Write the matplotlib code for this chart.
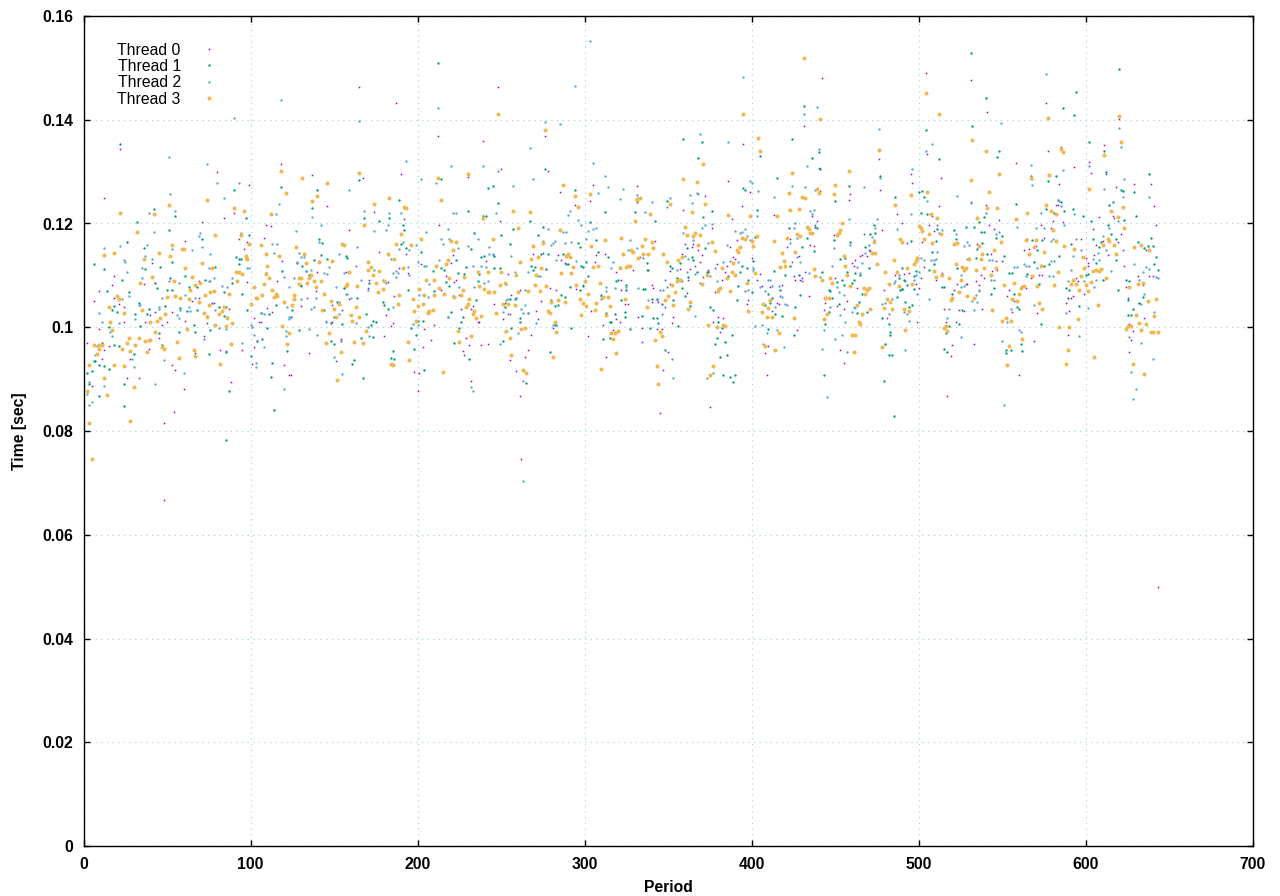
import numpy as np
import matplotlib
matplotlib.use('Agg')
import matplotlib.pyplot as plt

plt.rcParams['font.family'] = ['Liberation Sans', 'DejaVu Sans']

# (period, time in sec)
thread0 = [
(84,.1210),(90,.1220),(71,.1202),(109,.1198),(112,.1195),(146,.1233),(159,.1187),(174,.1222),(93,.1171),(98,.1164),(61,.1166),(108,.1173),(96,.1150),(41,.1123),(119,.1127),(18,.1098),(17,.1081),(9,.1069),(6,.1050),(36,.1083),(51,.1089),(69,.1090),(76,.1089),(98,.1087),(116,.1090),(130,.1081),(140,.1106),(139,.1069),(157,.1106),(156,.1075),(163,.1119),(171,.1092),(170,.1075),(18,.1056),(21,.1044),(24,.1039),(43,.1029),(40,.1023),(53,.1029),(65,.1050),(69,.1056),(77,.1046),(78,.1046),(87,.1035),(134,.1056),(130,.1040),(110,.1037),(113,.1029),(149,.1042),(155,.1033),(159,.1054),(102,.1017),(105,.1010),(106,.1010),(24,.1011),(37,.1011),(50,.1010),(47,.1004),(61,.1013),(74,.1008),(78,.1005),(145,.1013),(149,.1011),(9,.0996),(2,.0969),(15,.0963),(12,.0957),(39,.0959),(45,.0979),(72,.0983),(154,.0977),(154,.0973),(82,.0957),(85,.0954),(95,.0957),(102,.0961),(11,.0938),(28,.0938),(67,.0950),(53,.0928),(55,.0917),(101,.0930),(135,.0950),(151,.0934),(120,.0928),(123,.0907),(124,.0907),(26,.0903),(33,.0903),(5,.0886),(88,.0894),(60,.0880),(54,.0836),
(303,.1243),(294,.1235),(192,.1208),(213,.1198),(249,.1204),(177,.1145),(193,.1141),(221,.1139),(220,.1123),(202,.1121),(245,.1139),(241,.1127),(269,.1141),(275,.1144),(284,.1139),(286,.1129),(288,.1123),(312,.1141),(306,.1125),(307,.1139),(335,.1133),(342,.1166),(329,.1110),(337,.1110),(319,.1106),(351,.1108),(217,.1098),(214,.1071),(223,.1092),(222,.1087),(254,.1102),(182,.1087),(189,.1115),(194,.1104),(279,.1075),(283,.1071),(299,.1081),(295,.1073),(322,.1092),(322,.1071),(340,.1081),(341,.1075),(345,.1071),(351,.1083),(186,.1060),(225,.1062),(256,.1063),(261,.1071),(274,.1050),(271,.1032),(326,.1044),(324,.1044),(343,.1052),(348,.1039),(340,.1048),(344,.1048),(246,.1044),(226,.1035),(233,.1040),(232,.1035),(304,.1031),(181,.1023),(185,.1008),(251,.1015),(272,.1015),(255,.1025),(332,.1019),(319,.1015),(321,.1011),(353,.1019),(352,.1008),(236,.1011),(237,.1010),(184,.1002),(210,.1004),(204,.0996),(281,.0998),(311,.1004),(317,.0994),(334,.0998),(343,.0996),(346,.0996),(252,.0990),(229,.0979),(180,.0983),(268,.0986),(302,.0984),(208,.0975),(238,.0965),(242,.0967),(231,.0965),(203,.0962),(227,.0954),(228,.0946),(266,.0957),(264,.0942),(255,.0936),(313,.0942),(350,.0952),(198,.0913),(201,.0911),(259,.0915),(263,.0896),(347,.0917),(232,.0896),(200,.0877),(261,.0867),(345,.0834),
(540,.1235),(512,.1233),(582,.1235),(583,.1235),(641,.1233),(508,.1214),(580,.1204),(586,.1202),(548,.1206),(608,.1212),(616,.1214),(617,.1210),(490,.1200),(506,.1198),(511,.1198),(542,.1198),(573,.1198),(642,.1197),(509,.1185),(545,.1189),(579,.1191),(604,.1189),(621,.1179),(575,.1173),(597,.1170),(619,.1164),(610,.1166),(493,.1162),(502,.1164),(535,.1160),(606,.1158),(563,.1148),(566,.1150),(570,.1156),(622,.1148),(636,.1148),(543,.1141),(613,.1139),(605,.1139),(600,.1133),(601,.1123),(503,.1117),(547,.1111),(546,.1127),(550,.1127),(623,.1119),(494,.1104),(491,.1102),(514,.1104),(544,.1108),(537,.1100),(539,.1094),(572,.1100),(574,.1100),(492,.1089),(498,.1083),(501,.1094),(510,.1092),(534,.1090),(567,.1094),(594,.1094),(595,.1090),(523,.1083),(528,.1083),(529,.1083),(536,.1081),(601,.1119),(631,.1098),(638,.1098),(640,.1098),(624,.1077),(634,.1081),(500,.1075),(521,.1071),(536,.1069),(554,.1071),(562,.1079),(564,.1075),(599,.1064),(553,.1060),(557,.1050),(591,.1056),(592,.1060),(625,.1056),(588,.1046),(632,.1046),(515,.1036),(524,.1034),(527,.1031),(538,.1036),(556,.1029),(571,.1027),(590,.1031),(635,.1017),(522,.1011),(516,.1011),(499,.1010),(626,.1006),(628,.0992),(589,.0986),(569,.0973),(520,.0965),(533,.0967),(627,.0975),(519,.0945),(626,.0952),(560,.0907),(517,.0867),
(442,.1480),(504,.1490),(531,.1476),(431,.1388),(395,.1353),(505,.1334),(476,.1324),(440,.1307),(495,.1295),(496,.1278),(513,.1287),(386,.1282),(477,.1264),(399,.1260),(441,.1262),(372,.1253),(459,.1256),(394,.1233),(359,.1226),(458,.1245),(413,.1216),(436,.1214),(487,.1218),(388,.1208),(439,.1204),(438,.1197),(376,.1191),(478,.1187),(467,.1179),(449,.1177),(423,.1170),(360,.1160),(365,.1160),(391,.1168),(364,.1154),(435,.1158),(437,.1156),(421,.1154),(368,.1149),(387,.1154),(470,.1149),(471,.1147),(466,.1139),(465,.1137),(469,.1137),(428,.1137),(358,.1141),(370,.1139),(389,.1135),(390,.1131),(400,.1133),(530,.1133),
(369,.1125),(379,.1121),(385,.1119),(357,.1112),(363,.1112),(366,.1119),(374,.1110),(371,.1096),(384,.1106),(362,.1091),(382,.1091),(396,.1069),(378,.1067),(361,.1066),(405,.1102),(403,.1092),(406,.1079),(411,.1077),(418,.1081),(424,.1125),(425,.1098),(426,.1092),(430,.1095),(429,.1091),(432,.1106),(434,.1060),(398,.1052),(397,.1044),(415,.1046),(416,.1044),(412,.1031),(380,.1019),(383,.1017),(377,.1010),(381,.0990),(450,.1094),(462,.1129),(460,.1123),(461,.1118),(463,.1075),(455,.1036),(457,.1050),(443,.1033),(444,.1046),(451,.1040),(479,.1071),(481,.1017),(486,.1100),(410,.0963),(427,.0994),(408,.0950),(409,.0907),(453,.0957),(455,.0932),(375,.0847),
(165,.1463),(187,.1432),(248,.1463),(212,.1368),(239,.1359),(276,.1368),(137,.1293),(167,.1287),(190,.1295),(230,.1289),(250,.1305),(278,.1301),(305,.1274),(331,.1272),(285,.1260),
(22,.1343),(118,.1314),(80,.1299),(99,.1274),(12,.1249),
(576,.1432),(541,.1414),(620,.1401),(611,.1351),(585,.1347),(577,.1339),(558,.1316),(593,.1309),(602,.1318),(603,.1297),(612,.1295),(629,.1276),(639,.1276),(618,.1270),(584,.1277),(568,.1285),
(48,.0667),(643,.0499),(262,.0746),(48,.0815),
]

thread1 = [
(42,.1227),(55,.1214),(97,.1210),(32,.1202),(137,.1229),(168,.1210),(177,.1204),(51,.1187),(99,.1177),(71,.1171),(26,.1164),(36,.1152),(141,.1171),(143,.1162),(91,.1136),(93,.1131),(94,.1131),(142,.1139),(128,.1123),(131,.1119),(138,.1129),(146,.1131),(157,.1137),(158,.1133),(53,.1125),(6,.1121),(37,.1112),(46,.1117),(12,.1112),(79,.1117),(93,.1121),(97,.1131),(109,.1104),(119,.1108),(135,.1100),(133,.1109),(23,.1092),(52,.1094),(61,.1098),(73,.1092),(43,.1085),(89,.1085),(130,.1079),(27,.1067),(14,.1069),(44,.1075),(50,.1071),(53,.1071),(63,.1077),(68,.1077),(84,.1067),(95,.1065),(156,.1075),(164,.1056),(171,.1085),(33,.1046),(18,.1040),(17,.1033),(20,.1029),(39,.1035),(49,.1040),(58,.1037),(68,.1033),(62,.1031),(81,.1039),(85,.1039),(74,.1021),(84,.1021),(86,.1019),(106,.1027),(98,.1033),(125,.1033),(124,.1019),(111,.1025),(115,.1042),(144,.1033),(152,.1048),(150,.1019),(169,.1025),(173,.1013),(175,.1011),(31,.1025),(38,.1025),(34,.1002),(66,.1004),(15,.1000),(110,.0998),(57,.0990),(67,.0990),(76,.0994),(148,.1008),(155,.1007),(172,.1004),(129,.0994),(107,.0977),(104,.0973),(45,.0988),(40,.0975),(11,.0969),(18,.0965),(21,.0963),(166,.0979),(173,.0981),(148,.0973),(150,.0967),(47,.0965),(30,.0948),(75,.0948),(85,.0952),(100,.0944),(122,.0955),(6,.0934),(7,.0934),(9,.0928),(12,.0926),(113,.0932),(162,.0936),(161,.0930),(15,.0919),(2,.0911),(5,.0915),(24,.0890),(3,.0890),(112,.0904),(167,.0902),(87,.0877),(9,.0867),(24,.0849),(114,.0840),
(189,.1245),(183,.1210),(230,.1225),(248,.1239),(239,.1214),(241,.1214),(312,.1222),(330,.1222),(349,.1243),(342,.1204),(303,.1202),(267,.1204),(191,.1197),(192,.1187),(257,.1189),(275,.1193),(190,.1160),(193,.1152),(202,.1146),(232,.1150),(272,.1177),(250,.1177),(234,.1181),(255,.1160),(278,.1141),(274,.1141),(287,.1141),(296,.1162),(297,.1154),(307,.1168),(308,.1145),(238,.1135),(240,.1137),(246,.1137),(223,.1129),(289,.1121),(290,.1121),(270,.1117),(268,.1119),(269,.1110),(214,.1115),(216,.1110),(229,.1117),(246,.1114),(249,.1114),(209,.1108),(224,.1104),(237,.1102),(277,.1112),(298,.1119),(299,.1117),(301,.1125),(302,.1098),(314,.1135),(321,.1117),(337,.1123),(338,.1110),(351,.1119),(352,.1114),(355,.1094),(228,.1102),(236,.1089),(217,.1087),(219,.1079),(253,.1083),(291,.1077),(297,.1071),(299,.1079),(320,.1091),(319,.1089),(325,.1081),(325,.1071),(335,.1073),(336,.1073),(235,.1052),(221,.1060),(194,.1071),(210,.1069),(179,.1048),(180,.1042),(182,.1035),(255,.1054),(252,.1046),(258,.1054),(259,.1056),(252,.1039),(280,.1052),(284,.1042),(282,.1040),(286,.1062),(288,.1058),(310,.1062),(322,.1052),(340,.1054),(343,.1054),(346,.1044),(353,.1052),(220,.1029),(218,.1019),(227,.1019),(226,.1010),(200,.1013),(203,.1013),(196,.0998),(266,.1027),(261,.1017),(261,.1010),(256,.0998),(282,.1004),(283,.1004),(313,.1027),(318,.1025),(324,.1029),(324,.1019),(316,.1010),(315,.1010),(334,.1021),(341,.1017),(343,.1017),(344,.1008),(356,.1002),(292,.0998),(225,.0998),(199,.0986),(327,.0996),(339,.0998),(311,.0977),(315,.0979),(251,.0973),(222,.0969),(198,.0959),(185,.0954),(348,.0956),(279,.0952),(184,.0940),(186,.0938),(231,.0938),(204,.0917),(265,.0892),
(558,.1237),(585,.1241),(614,.1235),(501,.1221),(505,.1218),(539,.1212),(576,.1227),(581,.1220),(587,.1224),(592,.1227),(598,.1214),(630,.1214),(603,.1204),(623,.1206),(613,.1198),(528,.1193),(533,.1193),(536,.1202),(511,.1189),(521,.1187),(522,.1171),(537,.1183),(539,.1183),(550,.1175),(546,.1173),(615,.1179),(639,.1173),(510,.1166),(495,.1166),(538,.1162),(568,.1168),(574,.1168),(591,.1160),(604,.1171),(618,.1170),(631,.1164),(637,.1156),(640,.1156),(635,.1152),(609,.1164),(608,.1154),(508,.1145),(535,.1150),(541,.1141),(571,.1148),(551,.1137),(584,.1137),(534,.1133),(530,.1131),(642,.1135),(618,.1129),(509,.1121),(498,.1108),(506,.1110),(523,.1115),(569,.1125),(575,.1119),(578,.1121),(606,.1123),(641,.1121),(643,.1110),(554,.1104),(556,.1104),(565,.1102),(601,.1102),(600,.1100),(497,.1098),(491,.1092),(493,.1081),(490,.1073),(489,.1071),(610,.1091),(624,.1092),(626,.1089),(514,.1077),(515,.1077),(497,.1073),(545,.1075),(572,.1083),(588,.1075),(590,.1071),(619,.1071),(520,.1064),(543,.1065),(557,.1064),(589,.1056),(492,.1048),(496,.1042),(494,.1039),(559,.1039),(560,.1035),(596,.1040),(625,.1052),(632,.1046),(634,.1058),(628,.1035),(526,.1033),(625,.1023),(627,.1023),(518,.1002),(524,.1006),(573,.1006),(516,.0988),(515,.0959),(517,.0952),(552,.0957),(555,.0957),(552,.0950),(561,.0967),(562,.0954),
(531,.1528),(431,.1426),(504,.1380),(532,.1388),(359,.1363),(370,.1357),(424,.1363),(405,.1330),(368,.1326),(436,.1326),(441,.1305),(440,.1337),(512,.1324),(415,.1287),(477,.1291),(395,.1268),(396,.1264),(458,.1272),(486,.1251),(450,.1243),(500,.1260),(502,.1262),(503,.1251),(376,.1224),(371,.1212),(403,.1226),(439,.1191),(438,.1193),(422,.1191),(473,.1197),(471,.1179),(474,.1182),(433,.1172),(449,.1168),(459,.1164),(361,.1152),(372,.1152),(402,.1174),(430,.1154),(437,.1147),(468,.1154),(364,.1135),(453,.1131),(456,.1133),
(357,.1123),(365,.1129),(362,.1096),(394,.1119),(397,.1114),(367,.1106),(373,.1106),(374,.1106),(386,.1098),(393,.1106),(398,.1091),(392,.1079),(401,.1127),(400,.1067),(358,.1075),(360,.1060),(391,.1052),(375,.1039),(377,.1033),(363,.1041),(380,.1011),(382,.0998),(388,.0986),(379,.0979),(384,.0971),(378,.0967),(385,.0946),(381,.0942),(383,.0907),(387,.0905),(390,.0907),(389,.0894),(413,.1108),(423,.1119),(420,.1100),(428,.1100),(410,.1065),(417,.1071),(429,.1063),(412,.1056),(408,.1042),(426,.1039),(411,.1046),(414,.1025),(418,.1021),(410,.0997),(425,.0985),(442,.1106),(457,.1106),(465,.1100),(462,.1104),(454,.1091),(451,.1087),(455,.1081),(460,.1085),(461,.1091),(446,.1071),(447,.1069),(448,.1056),(466,.1064),(470,.1114),(452,.1044),(464,.1048),(463,.1027),(469,.1029),(446,.1029),(444,.1006),(443,.0907),(487,.1058),(490,.1073),(478,.1017),(482,.1006),(483,.0990),(483,.0986),(480,.0967),(482,.0946),(484,.0946),(479,.0896),(485,.0828),(488,.1094),
(212,.1509),(165,.1283),(140,.1264),(214,.1285),(276,.1305),(242,.1268),(245,.1272),(294,.1264),(331,.1241),
(22,.1353),(118,.1270),(90,.1264),
(620,.1497),(540,.1441),(594,.1453),(586,.1422),(593,.1409),(548,.1339),(547,.1328),(602,.1357),(611,.1339),(567,.1291),(577,.1281),(582,.1291),(612,.1299),(638,.1295),(621,.1264),(622,.1262),(629,.1260),
(85,.0783),
]

thread2 = [
(117,.1237),(39,.1220),(55,.1224),(115,.1218),(168,.1225),(142,.1198),(127,.1185),(42,.1183),(69,.1175),(70,.1181),(94,.1181),(137,.1212),(174,.1185),(22,.1156),(12,.1152),(38,.1158),(113,.1160),(116,.1160),(141,.1164),(164,.1154),(53,.1150),(65,.1148),(76,.1142),(71,.1154),(114,.1144),(129,.1144),(153,.1142),(37,.1137),(41,.1131),(24,.1129),(25,.1125),(130,.1135),(132,.1135),(128,.1125),(141,.1127),(35,.1115),(26,.1106),(75,.1115),(98,.1114),(99,.1114),(109,.1104),(144,.1104),(147,.1117),(146,.1102),(133,.1108),(136,.1110),(156,.1104),(174,.1110),(35,.1094),(78,.1094),(57,.1085),(75,.1090),(83,.1079),(86,.1077),(92,.1090),(89,.1094),(120,.1096),(126,.1094),(123,.1077),(151,.1077),(166,.1092),(170,.1071),(27,.1060),(23,.1054),(47,.1056),(67,.1056),(61,.1062),(77,.1046),(79,.1033),(106,.1062),(157,.1064),(158,.1064),(130,.1054),(139,.1056),(153,.1048),(160,.1056),(33,.1042),(34,.1042),(45,.1039),(45,.1035),(58,.1034),(64,.1031),(63,.1039),(122,.1039),(136,.1036),(138,.1039),(106,.1027),(108,.1025),(56,.1023),(57,.1017),(31,.1015),(9,.1027),(11,.1010),(21,.1008),(100,.1005),(101,.1000),(123,.1019),(123,.1015),(153,.1025),(151,.1019),(145,.1010),(163,.1008),(170,.1000),(16,.0990),(17,.0984),(81,.0998),(85,.0996),(102,.0986),(104,.0973),(121,.0992),(121,.0984),(135,.0996),(140,.0986),(171,.0983),(72,.0977),(8,.0963),(95,.0969),(108,.0961),(154,.0973),(7,.0946),(29,.0938),(30,.0923),(48,.0936),(103,.0932),(150,.0942),(103,.0923),(60,.0911),(155,.0909),(3,.0895),(12,.0886),(43,.0890),(120,.0880),(2,.0871),(5,.0855),(3,.0850),
(183,.1220),(190,.1220),(221,.1220),(223,.1220),(247,.1220),(291,.1224),(290,.1216),(298,.1197),(296,.1206),(289,.1183),(287,.1183),(302,.1185),(305,.1189),(307,.1191),(336,.1222),(340,.1241),(349,.1231),(182,.1197),(181,.1187),(205,.1183),(218,.1189),(214,.1170),(234,.1181),(236,.1171),(215,.1160),(219,.1171),(224,.1152),(230,.1156),(243,.1154),(191,.1165),(189,.1150),(195,.1148),(199,.1158),(278,.1189),(275,.1167),(280,.1158),(281,.1162),(282,.1166),(288,.1162),(292,.1164),(301,.1170),(327,.1168),(326,.1148),(331,.1152),(355,.1110),(256,.1137),(243,.1141),(245,.1141),(184,.1131),(213,.1129),(200,.1125),(204,.1119),(205,.1119),(233,.1119),(238,.1119),(241,.1117),(283,.1129),(295,.1127),(317,.1125),(316,.1114),(333,.1135),(258,.1106),(266,.1106),(272,.1098),(273,.1098),(194,.1117),(187,.1108),(188,.1104),(185,.1104),(187,.1096),(195,.1100),(179,.1092),(181,.1085),(207,.1083),(240,.1085),(242,.1090),(225,.1077),(234,.1077),(325,.1077),(313,.1077),(318,.1075),(332,.1075),(348,.1092),(349,.1077),(347,.1071),(201,.1063),(203,.1063),(210,.1063),(206,.1058),(264,.1071),(310,.1060),(313,.1069),(338,.1052),(343,.1054),(185,.1039),(251,.1029),(254,.1054),(253,.1052),(259,.1056),(264,.1042),(262,.1035),(263,.1027),(266,.1027),(254,.1025),(310,.1054),(346,.1025),(218,.1019),(200,.1004),(197,.1007),(261,.1010),(271,.1008),(281,.1004),(283,.1004),(260,.0988),(249,.0967),(334,.0971),(352,.0938),(353,.0902),(232,.0884),(233,.0878),(263,.0704),
(505,.1243),(531,.1240),(583,.1245),(585,.1233),(616,.1241),(495,.1218),(540,.1220),(573,.1220),(593,.1218),(619,.1204),(570,.1191),(575,.1191),(559,.1193),(587,.1197),(614,.1191),(514,.1187),(548,.1183),(546,.1179),(512,.1181),(610,.1175),(565,.1171),(580,.1170),(579,.1166),(594,.1171),(522,.1179),(529,.1164),(530,.1158),(527,.1156),(597,.1148),(612,.1148),(607,.1144),(511,.1146),(592,.1137),(604,.1131),(608,.1129),(501,.1133),(503,.1129),(507,.1129),(509,.1129),(510,.1131),(529,.1131),(542,.1129),(544,.1129),(557,.1117),(559,.1117),(563,.1121),(564,.1119),(566,.1119),(571,.1114),(579,.1127),(581,.1127),(629,.1121),(636,.1117),(638,.1112),(634,.1106),(490,.1114),(500,.1106),(498,.1100),(497,.1092),(615,.1108),(591,.1110),(513,.1100),(525,.1100),(527,.1079),(525,.1077),(543,.1092),(545,.1092),(564,.1098),(578,.1098),(580,.1098),(599,.1089),(606,.1091),(589,.1089),(605,.1077),(632,.1091),(642,.1096),(643,.1094),(499,.1064),(506,.1054),(534,.1062),(532,.1050),(535,.1049),(536,.1071),(518,.1036),(533,.1033),(555,.1035),(569,.1042),(588,.1027),(601,.1037),(635,.1064),(633,.1044),(491,.1029),(493,.1025),(641,.1029),(517,.1017),(494,.1013),(553,.1010),(560,.0994),(561,.0990),(525,.0981),(550,.0973),(492,.0956),(596,.0984),(626,.0981),(633,.0969),(640,.0938),(627,.0913),(630,.0880),(628,.0861),(551,.0851),
(395,.1482),(439,.1424),(431,.1411),(476,.1382),(369,.1372),(386,.1357),(508,.1353),(504,.1339),(440,.1343),(433,.1310),(496,.1305),(477,.1287),(399,.1282),(400,.1278),(404,.1262),(424,.1272),(432,.1270),(438,.1264),(467,.1270),(363,.1255),(367,.1258),(368,.1256),(413,.1251),(364,.1239),(523,.1253),(531,.1241),(403,.1214),(403,.1226),(372,.1197),(376,.1199),(370,.1191),(359,.1181),(365,.1168),(390,.1185),(393,.1181),(394,.1183),(396,.1189),(397,.1176),(399,.1168),(385,.1158),(374,.1162),(422,.1226),(435,.1224),(437,.1226),(436,.1218),(426,.1201),(425,.1191),(427,.1172),(423,.1162),(458,.1208),(475,.1208),(487,.1189),(474,.1191),(472,.1174),(473,.1168),(470,.1158),(468,.1143),(449,.1152),(459,.1158),(427,.1135),(362,.1132),
(360,.1137),(383,.1126),(387,.1128),(392,.1125),(361,.1106),(366,.1102),(378,.1114),(375,.1098),(379,.1089),(369,.1085),(358,.1089),(380,.1073),(398,.1071),(405,.1077),(411,.1092),(410,.1091),(401,.1110),(401,.1114),(429,.1125),(434,.1104),(430,.1089),(441,.1096),(412,.1079),(416,.1079),(408,.1069),(417,.1061),(418,.1058),(414,.1039),(420,.1044),(421,.1042),(415,.0995),(448,.1118),(465,.1104),(466,.1123),(463,.1116),(451,.1077),(452,.1067),(455,.1063),(447,.1039),(446,.1029),(453,.1023),(456,.1011),(460,.1029),(461,.1039),(462,.1037),(443,.0994),(450,.0978),(454,.0985),(442,.0959),(457,.0953),(445,.0865),(478,.1044),(480,.1046),(482,.1025),(484,.1054),(486,.1089),(485,.1085),(488,.1100),(490,.1114),(402,.1003),(406,.1005),(409,.0988),(407,.0967),(366,.1021),(363,.1041),(373,.0903),(377,.0911),(419,.0961),
(303,.1551),(294,.1465),(212,.1422),(165,.1397),(276,.1395),(285,.1391),(267,.1345),(193,.1320),(305,.1316),(312,.1291),(314,.1270),(220,.1310),(239,.1310),(248,.1301),(257,.1272),(269,.1285),(202,.1285),(211,.1278),(159,.1264),(323,.1266),(321,.1247),(331,.1255),(308,.1258),(351,.1249),
(90,.1403),(118,.1438),(51,.1328),(74,.1314),(80,.1278),(93,.1278),(52,.1256),(84,.1249),
(576,.1488),(549,.1393),(620,.1384),(621,.1347),(586,.1337),(567,.1312),(602,.1310),(586,.1303),(623,.1285),(568,.1274),(611,.1266),(622,.1252),(638,.1251),(583,.1245),(584,.1243),(616,.1241),
]

thread3 = [
(0,.0),(22,.1220),(51,.1235),(74,.1245),(90,.1229),(96,.1224),(42,.1218),(137,.1243),(174,.1237),(112,.1218),(168,.1197),(32,.1183),(79,.1177),(94,.1177),(99,.1160),(106,.1158),(53,.1158),(127,.1154),(155,.1160),(156,.1158),(18,.1144),(12,.1139),(45,.1144),(52,.1137),(59,.1150),(60,.1150),(97,.1137),(98,.1131),(109,.1141),(117,.1137),(132,.1142),(36,.1131),(133,.1123),(141,.1125),(149,.1128),(170,.1125),(172,.1117),(110,.1119),(71,.1123),(77,.1115),(61,.1114),(91,.1106),(93,.1106),(95,.1102),(109,.1102),(159,.1106),(170,.1110),(173,.1100),(177,.1108),(41,.1096),(65,.1096),(54,.1090),(34,.1085),(70,.1085),(67,.1081),(92,.1089),(111,.1094),(108,.1083),(129,.1094),(130,.1094),(136,.1100),(135,.1094),(129,.1083),(134,.1085),(138,.1089),(142,.1089),(139,.1077),(158,.1083),(157,.1079),(164,.1079),(175,.1085),(102,.1077),(113,.1071),(64,.1071),(78,.1069),(76,.1067),(73,.1063),(87,.1065),(55,.1060),(50,.1058),(58,.1056),(63,.1054),(20,.1060),(21,.1054),(103,.1056),(104,.1056),(107,.1062),(115,.1065),(114,.1058),(116,.1060),(126,.1062),(126,.1054),(144,.1065),(176,.1067),(69,.1049),(120,.1049),(148,.1050),(153,.1044),(100,.1044),(75,.1042),(15,.1039),(35,.1033),(84,.1039),(83,.1031),(81,.1025),(72,.1027),(24,.1027),(49,.1025),(125,.1042),(143,.1034),(150,.1036),(163,.1039),(160,.1023),(151,.1019),(74,.1019),(86,.1017),(46,.1017),(44,.1013),(40,.1011),(16,.1011),(161,.1013),(165,.1019),(89,.1008),(79,.1005),(85,.1002),(119,.1002),(62,.0996),(17,.0994),(169,.0992),(43,.0990),(123,.0988),(147,.0988),(27,.0980),(33,.0980),(37,.0973),(39,.0975),(40,.0975),(56,.0971),(26,.0969),(6,.0965),(9,.0965),(11,.0965),(31,.0965),(88,.0967),(122,.0967),(145,.0969),(162,.0971),(167,.0969),(9,.0959),(23,.0959),(47,.0961),(48,.0959),(66,.0957),(28,.0954),(38,.0952),(154,.0952),(8,.0948),(67,.0944),(57,.0940),(82,.0930),(3,.0928),(18,.0928),(24,.0926),(12,.0902),(152,.0898),(30,.0884),(2,.0878),(14,.0869),(3,.0815),(5,.0746),(28,.0819),
(214,.1245),(192,.1231),(193,.1229),(257,.1225),(267,.1222),(239,.1210),(296,.1231),(339,.1218),(351,.1237),(330,.1204),(331,.1245),(260,.1191),(190,.1179),(202,.1171),(245,.1170),(220,.1166),(223,.1164),(285,.1187),(275,.1162),(269,.1156),(187,.1160),(196,.1158),(304,.1156),(312,.1168),(322,.1173),(336,.1171),(340,.1164),(334,.1156),(341,.1152),(221,.1148),(182,.1141),(186,.1131),(328,.1148),(329,.1146),(323,.1142),(335,.1141),(338,.1142),(347,.1142),(332,.1133),(290,.1141),(289,.1137),(291,.1135),(272,.1135),(268,.1131),(218,.1129),(217,.1121),(211,.1119),(261,.1125),(349,.1125),(356,.1129),(305,.1117),(308,.1119),(321,.1114),(325,.1117),(326,.1119),(327,.1119),(293,.1117),(274,.1115),(242,.1106),(191,.1114),(236,.1106),(250,.1106),(286,.1104),(292,.1104),(259,.1100),(271,.1100),(228,.1096),(219,.1094),(205,.1092),(210,.1092),(180,.1089),(309,.1085),(252,.1085),(249,.1081),(237,.1079),(270,.1081),(277,.1079),(295,.1081),(300,.1090),(352,.1081),(355,.1090),(357,.1092),(354,.1067),(179,.1073),(201,.1073),(213,.1075),(227,.1071),(240,.1073),(242,.1067),(243,.1067),(246,.1067),(216,.1065),(204,.1063),(210,.1063),(226,.1063),(189,.1062),(222,.1058),(231,.1054),(197,.1054),(260,.1067),(266,.1069),(273,.1069),(302,.1065),(311,.1058),(314,.1058),(297,.1054),(284,.1052),(288,.1049),(280,.1049),(299,.1047),(307,.1047),(324,.1055),(350,.1060),(348,.1052),(353,.1042),(188,.1044),(203,.1044),(200,.1040),(251,.1044),(254,.1044),(258,.1042),(230,.1044),(229,.1039),(315,.1040),(337,.1039),(301,.1040),(198,.1031),(278,.1031),(279,.1027),(207,.1031),(209,.1033),(206,.1029),(206,.1027),(234,.1031),(233,.1025),(247,.1027),(306,.1033),(313,.1023),(298,.1023),(238,.1021),(235,.1017),(199,.1013),(282,.1010),(264,.0998),(262,.0996),(253,.0992),(224,.0992),(283,.0990),(316,.0988),(318,.0988),(320,.0992),(345,.0990),(346,.0984),(232,.0984),(255,.0980),(317,.0977),(342,.0975),(194,.0971),(225,.0971),(319,.0950),(256,.0946),(281,.0942),(195,.0936),(184,.0930),(185,.0928),(343,.0926),(263,.0917),(265,.0911),(215,.0913),(310,.0919),(344,.0890),
(547,.1229),(576,.1235),(622,.1231),(507,.1218),(511,.1210),(535,.1210),(541,.1229),(558,.1208),(565,.1220),(579,.1224),(582,.1218),(615,.1225),(619,.1212),(500,.1195),(501,.1191),(502,.1185),(506,.1179),(513,.1179),(503,.1170),(508,.1162),(489,.1171),(490,.1164),(521,.1160),(523,.1162),(549,.1164),(536,.1156),(545,.1148),(538,.1142),(564,.1168),(570,.1168),(580,.1187),(582,.1166),(569,.1154),(566,.1142),(575,.1146),(587,.1156),(593,.1150),(613,.1170),(614,.1166),(617,.1158),(610,.1158),(623,.1191),(629,.1154),(633,.1158),(638,.1148),(618,.1141),(537,.1131),(530,.1131),(499,.1133),(498,.1127),(497,.1121),(522,.1121),(526,.1117),(528,.1114),(527,.1110),(539,.1115),(534,.1110),(546,.1115),(493,.1114),(509,.1108),(510,.1096),(514,.1100),(518,.1094),(525,.1092),(543,.1100),(573,.1119),(583,.1106),(568,.1098),(598,.1135),(599,.1114),(606,.1110),(604,.1108),(608,.1108),(609,.1112),(597,.1098),(592,.1092),(612,.1094),(603,.1087),(600,.1081),(591,.1083),(594,.1083),(596,.1071),(601,.1069),(496,.1083),(551,.1081),(557,.1085),(581,.1081),(571,.1079),(563,.1079),(561,.1075),(524,.1067),(560,.1065),(529,.1060),(533,.1056),(520,.1056),(519,.1052),(556,.1054),(559,.1050),(572,.1046),(574,.1036),(607,.1042),(491,.1036),(494,.1032),(544,.1033),(631,.1083),(634,.1085),(626,.1077),(637,.1050),(642,.1054),(630,.1023),(641,.1021),(595,.1015),(550,.1013),(552,.1017),(555,.1013),(632,.1008),(636,.1006),(627,.1003),(625,.1002),(624,.0996),(584,.1000),(590,.1000),(516,.1003),(515,.0998),(517,.0992),(492,.0994),(633,.0994),(639,.0990),(640,.0990),(643,.0990),(562,.0977),(554,.0963),(589,.0957),(605,.0942),(553,.0928),(588,.0930),(628,.0930),(635,.0909),
(431,.1519),(395,.1411),(441,.1401),(504,.1451),(512,.1411),(404,.1364),(405,.1339),(532,.1361),(476,.1341),(371,.1314),(424,.1297),(458,.1301),(359,.1285),(531,.1283),(367,.1280),(450,.1274),(439,.1266),(422,.1258),(440,.1258),(449,.1256),(495,.1255),(505,.1260),(430,.1251),(432,.1249),(372,.1237),(486,.1235),(423,.1226),(428,.1228),(364,.1222),(386,.1216),(399,.1214),(415,.1214),(454,.1201),(360,.1193),(361,.1177),(366,.1181),(365,.1176),(369,.1177),(433,.1194),(434,.1189),(427,.1179),(429,.1176),(435,.1181),(436,.1181),(453,.1187),(452,.1181),(451,.1177),(403,.1176),(394,.1172),(396,.1170),(413,.1166),(421,.1172),(376,.1164),(368,.1158),(378,.1147),(401,.1156),(400,.1166),(393,.1154),(391,.1149),(392,.1145),(418,.1143),(426,.1145),(473,.1164),(472,.1143),(474,.1143),(455,.1137),(358,.1135),(499,.1133),
(456,.1119),(475,.1121),(485,.1129),(382,.1114),(389,.1123),(388,.1106),(390,.1100),(385,.1094),(373,.1100),(357,.1092),(370,.1083),(402,.1104),(397,.1085),(417,.1116),(420,.1118),(419,.1127),(437,.1112),(438,.1098),(442,.1092),(447,.1094),(448,.1085),(457,.1100),(459,.1079),(463,.1042),(467,.1075),(468,.1064),(469,.1071),(470,.1075),(480,.1106),(482,.1083),(487,.1106),(488,.1079),(381,.1075),(380,.1069),(387,.1069),(481,.1054),(483,.1048),(479,.1037),(484,.1035),(471,.1035),(466,.1025),(363,.1048),(362,.1035),(398,.1031),(407,.1045),(410,.1038),(406,.1029),(411,.1052),(412,.1019),(409,.1019),(425,.1018),(444,.1056),(446,.1056),(445,.1025),(443,.1015),(464,.1011),(465,.1006),(374,.1004),(379,.1000),(383,.1004),(384,.1002),(416,.0988),(408,.0963),(414,.0957),(460,.0985),(462,.0986),(461,.0952),(478,.0961),(377,.0925),(375,.0907),
(131,.1287),(165,.1297),(146,.1278),(140,.1253),(183,.1249),(212,.1287),(230,.1295),(248,.1411),(276,.1380),(287,.1274),(294,.1253),(303,.1257),(331,.1247),(333,.1249),
(118,.1301),(121,.1258),
(577,.1403),(620,.1407),(621,.1357),(611,.1333),(585,.1343),(586,.1337),(540,.1339),(548,.1295),(578,.1293),(567,.1287),(602,.1266),(542,.1260),
]

colors = ['#9400d3', '#009e73', '#5aa8cc', '#f0b84e']
labels = ['Thread 0', 'Thread 1', 'Thread 2', 'Thread 3']
sizes = [1.1, 1.7, 1.7, 2.9]
markers = ['s', 'o', 'o', 'o']

xticks = [0, 100, 200, 300, 400, 500, 600, 700]
yticks = [0, 0.02, 0.04, 0.06, 0.08, 0.1, 0.12, 0.14, 0.16]
yticklabels = ['0', '0.02', '0.04', '0.06', '0.08', '0.1', '0.12', '0.14', '0.16']

fig = plt.figure(figsize=(12.8, 8.96), dpi=100)
ax = fig.add_axes([83.5/1280, 1-846/896, (1253-83.5)/1280, (846-16)/896])

for data, c, lab, s, m in zip([thread0, thread1, thread2, thread3], colors, labels, sizes, markers):
    pts = np.array(data)
    ax.plot(pts[:, 0], pts[:, 1], ls='none', marker=m, ms=s, mew=0, color=c, label=lab)

ax.set_xlim(0, 700)
ax.set_ylim(0, 0.16)
ax.set_xticks(xticks)
ax.set_yticks(yticks)
ax.set_yticklabels(yticklabels)
ax.tick_params(direction='in', length=4.5, width=1, top=True, right=True, labelsize=11.3)
ax.tick_params(axis='x', pad=8)
ax.tick_params(axis='y', pad=7.5)
for lab in ax.get_xticklabels() + ax.get_yticklabels():
    lab.set_fontweight('bold')
ax.set_axisbelow(True)
ax.grid(True, color='#a8d4de', lw=0.9, ls=(0, (1, 3.5)))
for sp in ax.spines.values():
    sp.set_linewidth(1.0)

ax.set_xlabel('Period', fontsize=11.3, fontweight='bold', labelpad=6)
ax.set_ylabel('Time [sec]', fontsize=11.3, fontweight='bold', labelpad=11)

ax.legend(loc='upper left', bbox_to_anchor=(0.029, 0.968), frameon=False, fontsize=11.3,
          markerfirst=False, labelspacing=0.09, handlelength=1.6, handletextpad=0.98,
          borderpad=0, borderaxespad=0, numpoints=1)

fig.savefig('out.png', dpi=100)
